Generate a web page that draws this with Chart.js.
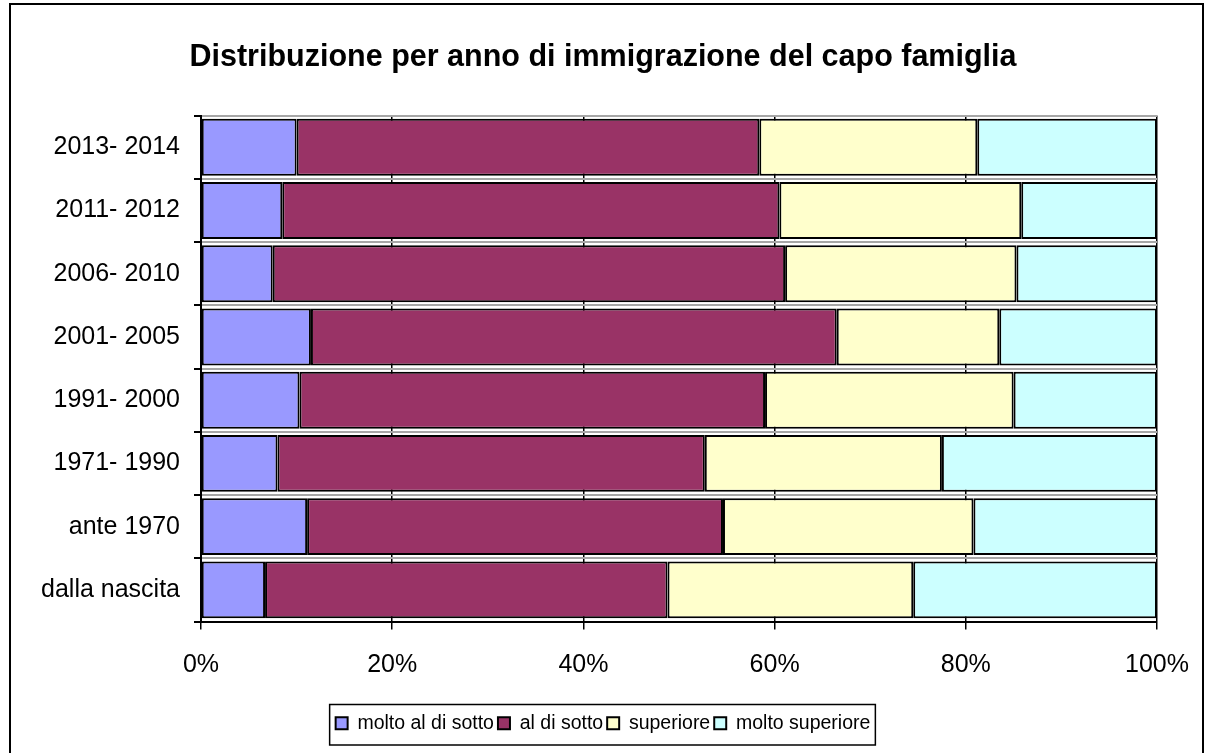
<!DOCTYPE html>
<html lang="it">
<head>
<meta charset="UTF-8">
<title>Distribuzione per anno di immigrazione</title>
<script src="https://cdn.jsdelivr.net/npm/chart.js"></script>
<style>
  body { margin: 0; background: #fff; }
  .wrap { position: relative; width: 1206px; height: 753px; }
  .frame { position: absolute; left: 9px; top: 3px; right: 2px; bottom: -10px; border: 2px solid #000; pointer-events: none; }
</style>
</head>
<body>
<div class="wrap">
  <canvas id="chart" width="1206" height="753"></canvas>
  <div class="frame"></div>
</div>
<script>
// categorie (dall'alto verso il basso)
const categories = ['2013- 2014', '2011- 2012', '2006- 2010', '2001- 2005', '1991- 2000', '1971- 1990', 'ante 1970', 'dalla nascita'];
const seriesNames = ['molto al di sotto', 'al di sotto', 'superiore', 'molto superiore'];

// valori in %
const moltoAlDiSotto = [10.0, 8.5, 7.5, 11.5, 10.3, 8.0, 11.1, 6.7];
const alDiSotto      = [48.4, 52.0, 53.6, 55.0, 48.7, 44.7, 43.5, 42.1];
const superiore      = [22.8, 25.3, 24.2, 17.0, 26.0, 24.8, 26.2, 25.7];
const moltoSuperiore = [18.8, 14.2, 14.7, 16.5, 15.0, 22.5, 19.2, 25.5];

const xTicks = [0, 20, 40, 60, 80, 100];
const colors = ['#9999FF', '#993366', '#FFFFCC', '#CCFFFF'];

const values = [moltoAlDiSotto, alDiSotto, superiore, moltoSuperiore];

// riquadro attorno alla legenda
const legendBox = {
  id: 'legendBox',
  afterDraw(chart) {
    const lg = chart.legend;
    if (!lg || !lg.legendHitBoxes.length) return;
    const boxes = lg.legendHitBoxes;
    const left = Math.min(...boxes.map(b => b.left)) - 6;
    const right = Math.max(...boxes.map(b => b.left + b.width)) + 5;
    const top = Math.min(...boxes.map(b => b.top)) - 9;
    const bottom = Math.max(...boxes.map(b => b.top + b.height)) + 12;
    const ctx = chart.ctx;
    ctx.save();
    ctx.strokeStyle = '#000';
    ctx.lineWidth = 1.5;
    ctx.strokeRect(left, top, right - left, bottom - top);
    ctx.restore();
  }
};

new Chart(document.getElementById('chart'), {
  type: 'bar',
  data: {
    labels: categories,
    datasets: seriesNames.map((name, i) => ({
      label: name,
      data: values[i],
      backgroundColor: colors[i],
      borderColor: '#000',
      borderWidth: 2,
      borderSkipped: false,
      barPercentage: 0.9,
      categoryPercentage: 1.0
    }))
  },
  options: {
    indexAxis: 'y',
    responsive: false,
    animation: false,
    layout: { padding: { left: 0, right: 0, top: 0, bottom: 10 } },
    scales: {
      x: {
        stacked: true,
        min: 0,
        max: 100,
        afterBuildTicks: s => { s.ticks = xTicks.map(v => ({ value: v })); },
        afterFit: s => { s.height = 88; s.paddingLeft = 0; s.paddingRight = 0; },
        ticks: {
          color: '#000',
          padding: 21,
          font: { family: 'Liberation Sans, Arial', size: 25 },
          callback: v => v + '%'
        },
        grid: { color: '#000', lineWidth: 1.5, tickLength: 8, tickColor: '#000' },
        border: { color: '#000', width: 2 }
      },
      y: {
        stacked: true,
        afterFit: s => { s.width = 201; },
        ticks: {
          color: '#000',
          padding: 14,
          autoSkip: false,
          font: { family: 'Liberation Sans, Arial', size: 25 }
        },
        grid: { offset: true, color: '#a6a6a6', lineWidth: 2, tickLength: 7, tickColor: '#000' },
        border: { color: '#000', width: 2 }
      },
      // asse vuoto a destra: solo per lasciare il margine
      yRight: {
        type: 'category',
        position: 'right',
        afterFit: s => { s.width = 49; },
        ticks: { display: false },
        grid: { display: false },
        border: { display: false }
      }
    },
    plugins: {
      title: {
        display: true,
        text: 'Distribuzione per anno di immigrazione del capo famiglia',
        color: '#000',
        font: { family: 'Liberation Sans, Arial', size: 30.5, weight: 'bold' },
        padding: { top: 39, bottom: 40 }
      },
      legend: {
        position: 'bottom',
        labels: {
          color: '#000',
          boxWidth: 12,
          boxHeight: 12,
          padding: 4,
          font: { family: 'Liberation Sans, Arial', size: 19.5 }
        }
      },
      tooltip: { enabled: false }
    }
  },
  plugins: [legendBox]
});
</script>
</body>
</html>
